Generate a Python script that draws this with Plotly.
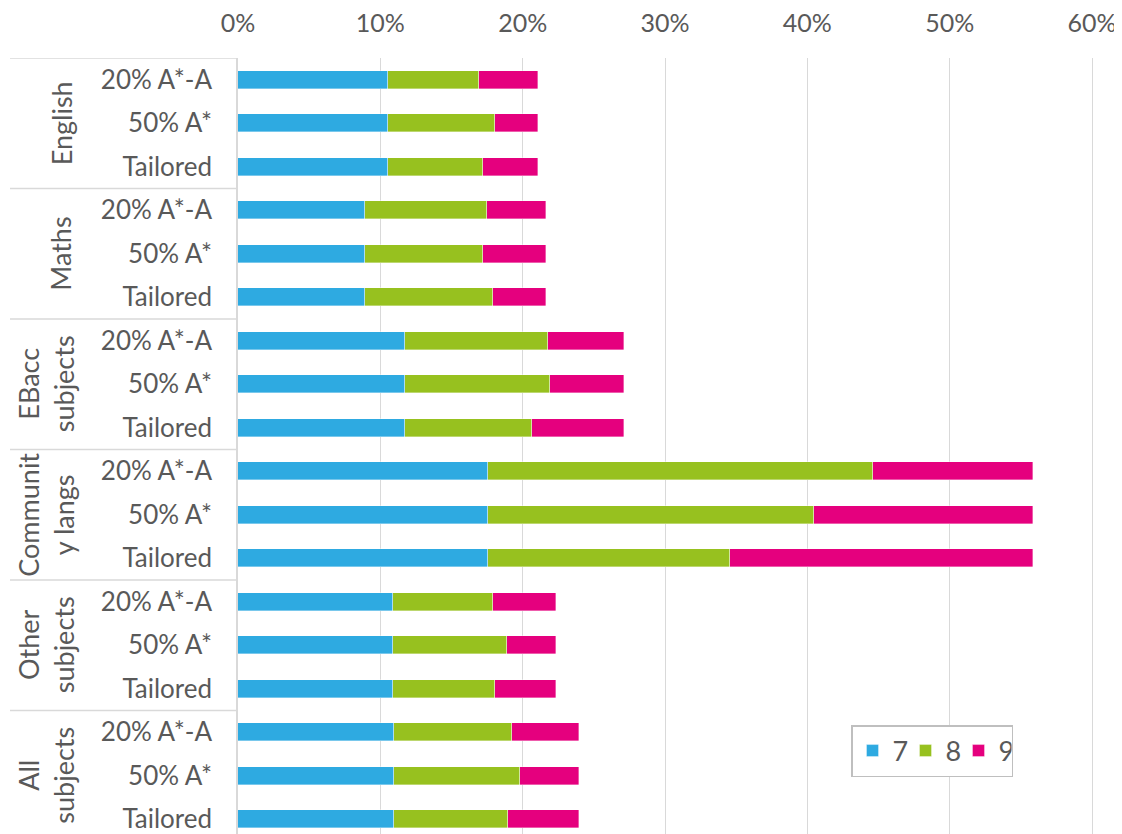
import plotly.graph_objects as go

# data (percent of entries)
groups = ["English", "Maths", "EBacc<br>subjects", "Communit<br>y langs", "Other<br>subjects", "All<br>subjects"]
methods = ["20% A*-A", "50% A*", "Tailored"]

grade7 = [10.51, 10.51, 10.51, 8.95, 8.95, 8.95, 11.70, 11.70, 11.70,
          17.58, 17.58, 17.58, 10.91, 10.91, 10.91, 10.93, 10.93, 10.93]
grade8 = [6.44, 7.56, 6.72, 8.53, 8.29, 8.95, 10.05, 10.21, 8.93,
          27.01, 22.88, 17.02, 6.99, 8.01, 7.17, 8.32, 8.88, 8.02]
grade9 = [4.15, 3.03, 3.87, 4.18, 4.42, 3.76, 5.37, 5.21, 6.49,
          11.24, 15.37, 21.23, 4.41, 3.39, 4.23, 4.72, 4.16, 5.02]

row_labels = [m for g in groups for m in methods]
rows = list(range(len(row_labels)))

font_family = "Lato, 'Open Sans', sans-serif"
grey = "#595959"
line_col = "#d9d9d9"

fig = go.Figure()
for name, vals, col in [("7", grade7, "#2eaae1"), ("8", grade8, "#97c11f"), ("9", grade9, "#e5007e")]:
    fig.add_trace(go.Bar(y=rows, x=vals, name=name, orientation="h", width=0.41,
                         marker=dict(color=col, line=dict(width=0.6, color="rgba(255,255,255,0.6)"))))

# page has an 8px body margin, so the figure is 1114x826 placed at (8, 8)
FW, FH = 1114, 826
L, R, T = 230, 20, 50
W = FW - L - R
H = FH - T
x_max = 60 * W / 854  # 60% sits at page x ~1092, a bit inside the plot edge

fig.update_layout(
    barmode="stack",
    width=FW, height=FH,
    margin=dict(l=L, r=R, t=T, b=0, pad=0, autoexpand=False),
    paper_bgcolor="white", plot_bgcolor="white",
    font=dict(family=font_family, color=grey, size=22),
    bargap=0,
    legend=dict(orientation="h", x=(843 - L) / W, y=(FH - 717) / H,
                xanchor="left", yanchor="top", bordercolor="#bfbfbf", borderwidth=1.5,
                font=dict(size=27, color=grey), traceorder="normal", itemwidth=30,
                entrywidth=8),
    xaxis=dict(side="top", range=[0, x_max], tickvals=[0, 10, 20, 30, 40, 50, 60],
               ticktext=["0%", "10%", "20%", "30%", "40%", "50%", "60%"], showgrid=True,
               gridcolor=line_col, gridwidth=1.3, zeroline=False, showline=False,
               automargin=False, ticklabeloverflow="allow",
               ticks="", tickfont=dict(size=25, color=grey), ticklabelstandoff=20),
    yaxis=dict(tickvals=rows, ticktext=row_labels, range=[17.34, -0.5], showgrid=False,
               zeroline=False, showline=True, linecolor=line_col, linewidth=1.5,
               automargin=False, ticklabeloverflow="allow",
               ticks="", tickfont=dict(size=26, color=grey), ticklabelstandoff=19),
)

# group separator lines and group labels
for i, g in enumerate(groups):
    y0 = i * 3 - 0.5
    fig.add_shape(type="line", xref="paper", yref="y", x0=(2 - L) / W, x1=0, y0=y0, y1=y0,
                  line=dict(color=line_col, width=1.5))
    xc = (46 if "<br>" in g else 61) - 8
    fig.add_annotation(text=g, xref="paper", yref="y", x=(xc - L) / W, y=i * 3 + 1,
                       textangle=-90, showarrow=False, xanchor="center", yanchor="middle",
                       font=dict(size=27, color=grey))

fig.write_html("out.html")
